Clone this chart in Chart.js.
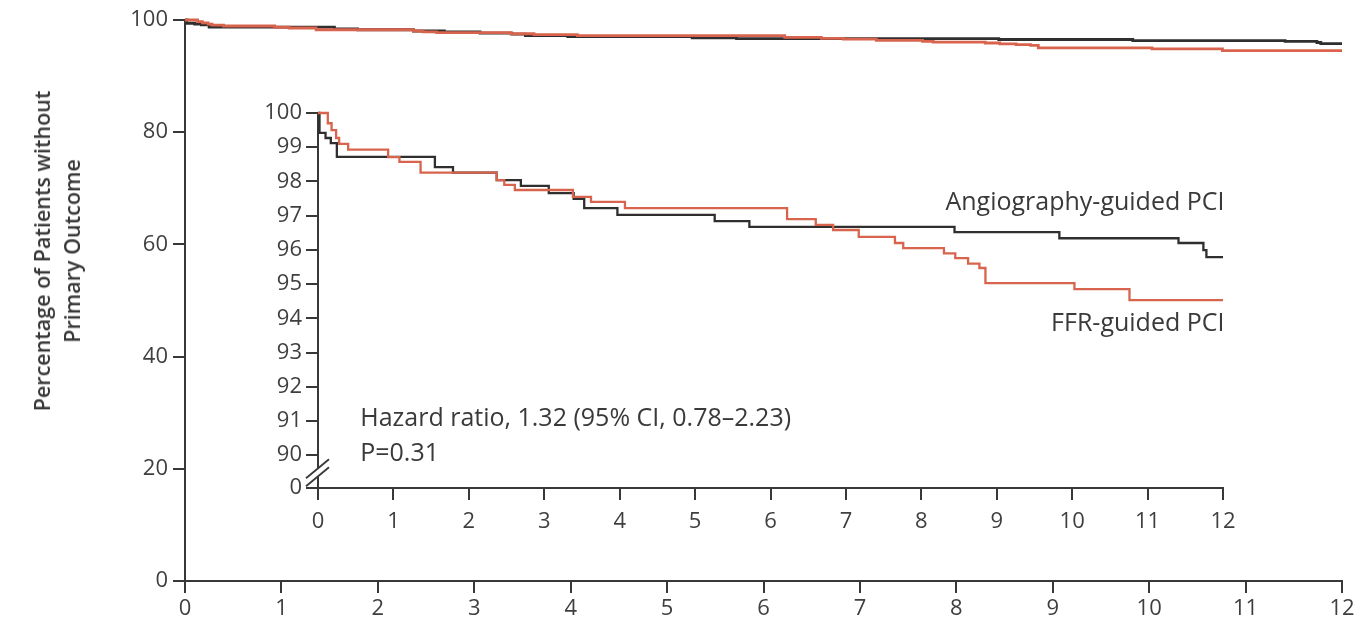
<!DOCTYPE html>
<html>
<head>
<meta charset="utf-8">
<script src="https://cdn.jsdelivr.net/npm/chart.js@4.4.1/dist/chart.umd.min.js"></script>
<style>
  html, body { margin: 0; padding: 0; background: #fff; }
  #wrap { position: relative; width: 1363px; height: 629px; overflow: hidden; }
  #mainChart { position: absolute; left: 0; top: 0; }
  #insetChart { position: absolute; left: 230px; top: 90px; }
  #yTitle {
    position: absolute; left: 57px; top: 251px;
    transform: translate(-50%, -50%) rotate(-90deg);
    font: 600 21.5px "Open Sans"; color: #383838;
    text-align: center; line-height: 30px; white-space: nowrap;
  }
</style>
</head>
<body>
<div id="wrap">
  <canvas id="mainChart" width="1363" height="629"></canvas>
  <canvas id="insetChart" width="1020" height="460"></canvas>
  <div id="yTitle">Percentage of Patients without<br>Primary Outcome</div>
</div>
<script>
// Kaplan-Meier estimates (months, % event-free)
const angioTimes = [0, 0.02, 0.1, 0.17, 0.25, 1.55, 1.79, 2.37, 2.69, 3.06, 3.39, 3.53, 3.97, 5.26, 5.72, 8.44, 9.83, 11.41, 11.74, 11.78, 12];
const angioSurv  = [100, 99.42, 99.27, 99.12, 98.72, 98.42, 98.26, 98.04, 97.87, 97.66, 97.49, 97.22, 97.02, 96.84, 96.67, 96.52, 96.34, 96.2, 95.99, 95.79, 95.79];

const ffrTimes = [0, 0.1, 0.13, 0.18, 0.24, 0.28, 0.4, 0.93, 1.08, 1.36, 2.37, 2.47, 2.61, 3.38, 3.62, 4.07, 6.22, 6.6, 6.83, 7.17, 7.65, 7.76, 8.3, 8.45, 8.62, 8.77, 8.85, 10.03, 10.76, 12];
const ffrSurv  = [100, 100, 99.7, 99.5, 99.27, 99.1, 98.93, 98.71, 98.57, 98.26, 98.04, 97.9, 97.75, 97.55, 97.4, 97.22, 96.9, 96.73, 96.58, 96.38, 96.2, 96.05, 95.9, 95.76, 95.6, 95.47, 95.03, 94.85, 94.53, 94.53];

const monthTicks = [0, 1, 2, 3, 4, 5, 6, 7, 8, 9, 10, 11, 12];
const mainYTicks = [0, 20, 40, 60, 80, 100];
const insetYTicks = [0, 90, 91, 92, 93, 94, 95, 96, 97, 98, 99, 100];

const insetNotes = [
  { text: 'Angiography-guided PCI', x: 12.02, y: 97.37, align: 'right' },
  { text: 'FFR-guided PCI', x: 12.02, y: 93.83, align: 'right' },
  { text: 'Hazard ratio, 1.32 (95% CI, 0.78\u20132.23)', x: 0.56, y: 91.05, align: 'left' },
  { text: 'P=0.31', x: 0.56, y: 90.05, align: 'left' }
];

const ANGIO_COLOR = '#2f2f2f';
const FFR_COLOR = '#d8644d';
const AXIS_COLOR = '#383838';
const TEXT_COLOR = '#3f3f3f';
const FONT = '"Open Sans", "Noto Sans", sans-serif';

// the inset's "0" sits just below the axis break
const INSET_FLOOR = 89.04;

const toPoints = (xs, ys) => xs.map((x, i) => ({ x: x, y: ys[i] }));

function curves(width) {
  return [
    { label: 'FFR-guided PCI', data: toPoints(ffrTimes, ffrSurv), borderColor: FFR_COLOR,
      borderWidth: width, stepped: 'before', pointRadius: 0, order: 1, clip: 6 },
    { label: 'Angiography-guided PCI', data: toPoints(angioTimes, angioSurv), borderColor: ANGIO_COLOR,
      borderWidth: width, stepped: 'before', pointRadius: 0, order: 2, clip: 6 }
  ];
}

function axisStyle() {
  return {
    grid: { drawOnChartArea: false, drawTicks: true, tickLength: 12, color: AXIS_COLOR, lineWidth: 2 },
    border: { display: true, color: AXIS_COLOR, width: 2 }
  };
}

const baseOptions = {
  responsive: false,
  animation: false,
  events: [],
  plugins: { legend: { display: false }, tooltip: { enabled: false } }
};

new Chart(document.getElementById('mainChart'), {
  type: 'line',
  data: { datasets: curves(2.8) },
  options: {
    ...baseOptions,
    layout: { padding: { top: 20, right: 21, left: 0, bottom: 0 } },
    scales: {
      x: {
        type: 'linear', min: 0, max: 12, ...axisStyle(),
        afterBuildTicks: s => { s.ticks = monthTicks.map(v => ({ value: v })); },
        afterFit: s => { s.height = 48; },
        ticks: { color: TEXT_COLOR, font: { family: FONT, size: 22 }, padding: 3, maxRotation: 0 }
      },
      y: {
        min: 0, max: 100, ...axisStyle(),
        afterBuildTicks: s => { s.ticks = mainYTicks.map(v => ({ value: v })); },
        afterFit: s => { s.width = 185; },
        ticks: { color: TEXT_COLOR, font: { family: FONT, size: 22 }, padding: 5 }
      }
    }
  }
});

const insetExtras = {
  id: 'insetExtras',
  afterDraw(chart) {
    const { ctx, scales: { x, y } } = chart;
    // axis break marks
    const ax = x.left;
    const yb = y.getPixelForValue(89.47);
    ctx.save();
    ctx.fillStyle = '#fff';
    ctx.fillRect(ax - 3, yb - 5, 6, 8);
    ctx.strokeStyle = AXIS_COLOR;
    ctx.lineWidth = 1.8;
    [-4, 4].forEach(d => {
      ctx.beginPath();
      ctx.moveTo(ax - 12, yb + d + 9);
      ctx.lineTo(ax + 11, yb + d - 10);
      ctx.stroke();
    });
    // notes
    ctx.fillStyle = '#3a3a3a';
    ctx.font = '25px ' + FONT;
    ctx.textBaseline = 'middle';
    insetNotes.forEach(n => {
      ctx.textAlign = n.align;
      ctx.fillText(n.text, x.getPixelForValue(n.x), y.getPixelForValue(n.y));
    });
    ctx.restore();
  }
};

new Chart(document.getElementById('insetChart'), {
  type: 'line',
  data: { datasets: curves(2.3) },
  options: {
    ...baseOptions,
    layout: { padding: { top: 23, right: 27, left: 0, bottom: 0 } },
    scales: {
      x: {
        type: 'linear', min: 0, max: 12, ...axisStyle(),
        afterBuildTicks: s => { s.ticks = monthTicks.map(v => ({ value: v })); },
        afterFit: s => { s.height = 62; },
        ticks: { color: TEXT_COLOR, font: { family: FONT, size: 22 }, padding: 9, maxRotation: 0 }
      },
      y: {
        min: INSET_FLOOR, max: 100, ...axisStyle(),
        afterBuildTicks: s => {
          s.ticks = insetYTicks.map(v => ({ value: v === 0 ? INSET_FLOOR : v }));
        },
        afterFit: s => { s.width = 88; },
        ticks: {
          color: TEXT_COLOR, font: { family: FONT, size: 22 }, padding: 4,
          callback: v => (v < 90 ? '0' : String(v))
        }
      }
    }
  },
  plugins: [insetExtras]
});
</script>
</body>
</html>
